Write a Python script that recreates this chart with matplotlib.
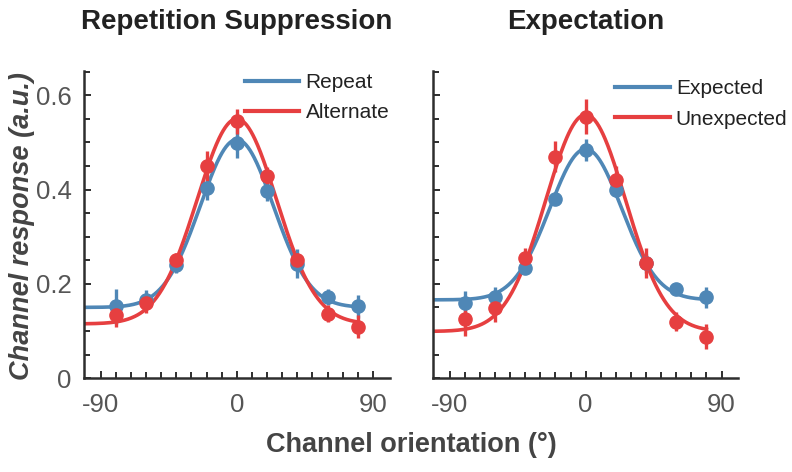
import numpy as np
import matplotlib
matplotlib.use("Agg")
import matplotlib.pyplot as plt

plt.rcParams['font.family'] = ['Liberation Sans', 'DejaVu Sans']
plt.rcParams['axes.unicode_minus'] = False

# channel centres (deg)
channels = [-80, -60, -40, -20, 0, 20, 40, 60, 80]

# Repetition suppression panel
repeat_mean = [0.152, 0.165, 0.240, 0.403, 0.499, 0.396, 0.243, 0.172, 0.152]
repeat_err = [0.037, 0.021, 0.016, 0.025, 0.032, 0.020, 0.030, 0.016, 0.025]
alternate_mean = [0.134, 0.159, 0.251, 0.450, 0.545, 0.428, 0.251, 0.136, 0.109]
alternate_err = [0.025, 0.020, 0.015, 0.032, 0.027, 0.020, 0.015, 0.018, 0.025]

# Expectation panel
expected_mean = [0.159, 0.173, 0.233, 0.379, 0.484, 0.400, 0.244, 0.189, 0.171]
expected_err = [0.025, 0.020, 0.010, 0.010, 0.023, 0.015, 0.020, 0.008, 0.023]
unexpected_mean = [0.125, 0.148, 0.255, 0.470, 0.555, 0.421, 0.245, 0.120, 0.088]
unexpected_err = [0.035, 0.028, 0.020, 0.032, 0.037, 0.030, 0.032, 0.021, 0.027]

# fitted gaussian tuning curves: (baseline, amplitude, width)
repeat_fit = (0.150, 0.356, 24.1)
alternate_fit = (0.115, 0.435, 26.2)
expected_fit = (0.166, 0.320, 23.8)
unexpected_fit = (0.099, 0.460, 26.4)

BLUE = '#4f87b6'
RED = '#e63f40'


def gauss(x, fit):
    base, amp, width = fit
    return base + amp * np.exp(-x ** 2 / (2 * width ** 2))


def draw_panel(ax, title, series, labels, legend_anchor):
    xs = np.linspace(-101, 80, 400)
    for (mean, err, fit), color in zip(series, [BLUE, RED]):
        ax.plot(xs, gauss(xs, fit), color=color, lw=2.6, zorder=2)
        ax.errorbar(channels, mean, yerr=err, fmt='o', color=color, ms=9.5,
                    elinewidth=2.4, capsize=0, zorder=3)
    handles = [plt.Line2D([], [], color=c, lw=3) for c in [BLUE, RED]]
    ax.legend(handles, labels, loc='upper left', bbox_to_anchor=legend_anchor,
              frameon=False, fontsize=15, handlelength=2.6, handletextpad=0.3,
              labelspacing=0.55, borderaxespad=0, labelcolor='#222222')

    ax.set_xlim(-101, 101)
    ax.set_ylim(0, 0.652)
    ax.set_xticks([-90, 0, 90])
    ax.set_xticks(np.arange(-90, 91, 10), minor=True)
    ax.set_yticks(np.arange(0, 0.66, 0.05), minor=True)
    for s in ['top', 'right']:
        ax.spines[s].set_visible(False)
    for s in ['left', 'bottom']:
        ax.spines[s].set_color('#2e2e2e')
        ax.spines[s].set_linewidth(1.8)
    ax.tick_params(which='both', direction='in', color='#2e2e2e', width=1.4,
                   labelsize=18.5, labelcolor='#555555')
    ax.tick_params(which='major', length=5)
    ax.tick_params(which='minor', length=4)
    ax.tick_params(axis='x', pad=11)
    ax.tick_params(axis='y', pad=9)
    ax.text(0.5, 1.16, title, transform=ax.transAxes, ha='center', va='center',
            fontsize=20, fontweight='bold', color='#222222')


fig = plt.figure(figsize=(7.92, 4.72), dpi=100)
ax1 = fig.add_axes([0.106, 0.199, 0.386, 0.651])
ax2 = fig.add_axes([0.547, 0.199, 0.385, 0.651])

ax1.set_yticks([0, 0.2, 0.4, 0.6])
ax1.set_yticklabels(['0', '0.2', '0.4', '0.6'])
ax2.set_yticks([0, 0.2, 0.4, 0.6])
ax2.set_yticklabels([])

draw_panel(ax1, 'Repetition Suppression',
           [(repeat_mean, repeat_err, repeat_fit),
            (alternate_mean, alternate_err, alternate_fit)],
           ['Repeat', 'Alternate'], (0.50, 1.02))
draw_panel(ax2, 'Expectation',
           [(expected_mean, expected_err, expected_fit),
            (unexpected_mean, unexpected_err, unexpected_fit)],
           ['Expected', 'Unexpected'], (0.57, 1.0))

fig.text(0.519, 0.057, 'Channel orientation (°)', ha='center', va='center',
         fontsize=19.5, fontweight='bold', color='#444444')
fig.text(0.028, 0.522, 'Channel response (a.u.)', ha='center', va='center',
         rotation=90, fontsize=19.5, fontweight='bold', style='italic',
         color='#444444')

fig.savefig('out.png', dpi=100)
